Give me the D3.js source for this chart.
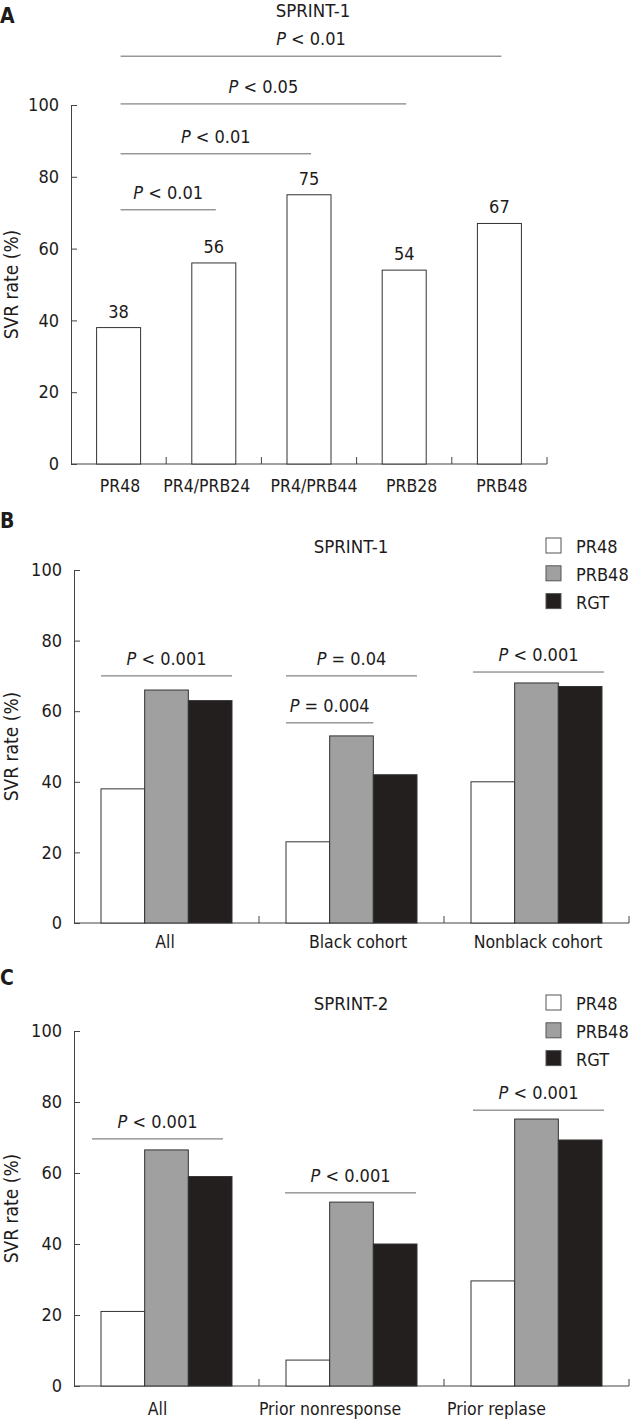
<!DOCTYPE html>
<html>
<head>
<meta charset="utf-8">
<script src="https://cdn.jsdelivr.net/npm/d3@7"></script>
<style>
body { margin: 0; background: #fff; }
svg text { font-family: "DejaVu Sans Condensed", "DejaVu Sans", sans-serif; font-stretch: condensed; font-size: 17.5px; fill: #1e1b1b; }
svg .tick text, svg .val, svg .plab, svg .leg text { font-size: 18px; }
svg .title { font-size: 18.5px; }
svg .ytitle { font-size: 19px; }
</style>
</head>
<body>
<svg width="630" height="1419"></svg>
<script>
// ---- data ----
// panel A : SPRINT-1 arms
var aTitle = "SPRINT-1";
var aCategories = ["PR48", "PR4/PRB24", "PR4/PRB44", "PRB28", "PRB48"];
var aValues = [38, 56, 75, 54, 67];
var aPairFrom = [0, 0, 0, 0];
var aPairTo = [1, 2, 3, 4];
var aPLevels = [70.8, 86.4, 100.3, 113.6];
var aPLabels = ["< 0.01", "< 0.01", "< 0.05", "< 0.01"];

// legend / series for B and C
var seriesNames = ["PR48", "PRB48", "RGT"];
var seriesColors = ["#ffffff", "#a0a0a0", "#231f1e"];

// panel B : SPRINT-1 by cohort
var bTitle = "SPRINT-1";
var bCategories = ["All", "Black cohort", "Nonblack cohort"];
var bPR48 = [38, 23, 40];
var bPRB48 = [66, 53, 68];
var bRGT = [63, 42, 67];
var bPCat = [0, 1, 1, 2];
var bPFrom = [0, 0, 0, 0];
var bPTo = [2, 2, 1, 2];
var bPLevels = [70, 70, 56.7, 71.1];
var bPLabels = ["< 0.001", "= 0.04", "= 0.004", "< 0.001"];

// panel C : SPRINT-2
var cTitle = "SPRINT-2";
var cCategories = ["All", "Prior nonresponse", "Prior replase"];
var cPR48 = [21, 7.3, 29.6];
var cPRB48 = [66.5, 51.8, 75.2];
var cRGT = [59, 40, 69.3];
var cPCat = [0, 1, 2];
var cPFrom = [0, 0, 0];
var cPTo = [2, 2, 2];
var cPLevels = [69.6, 54.4, 77.7];
var cPLabels = ["< 0.001", "< 0.001", "< 0.001"];

var yTicks = [0, 20, 40, 60, 80, 100];

// small nudges of the category labels / brackets as placed in the original figure
var aLabelShift = [1.5, -7, 5, 7.5, 2.5];
var bLabelShift = [-1.5, 6.5, 1.5];
var cLabelShift = [-9, -21.5, -40];
var bPShift = [0, 0, 0, 2];
var cPShift = [-9, -1, 2];

var svg = d3.select("svg");

function pLabel(g, cx, yy, label) {
  var t = g.append("text")
    .attr("class", "plab")
    .attr("x", cx)
    .attr("y", yy)
    .attr("text-anchor", "middle");
  t.append("tspan").style("font-style", "italic").text("P");
  t.append("tspan").text(" " + label);
}

function drawFrame(g, x, y, labelGap, shifts) {
  // y axis, ticks pointing inward
  g.append("g")
    .attr("transform", "translate(" + x.range()[0] + ",0)")
    .style("color", "#444")
    .call(d3.axisLeft(y).tickValues(yTicks).tickSize(-6).tickSizeOuter(0).tickPadding(12));

  var y0 = y(0);
  g.append("line")
    .attr("x1", x.range()[0]).attr("x2", x.range()[1])
    .attr("y1", y0).attr("y2", y0)
    .attr("stroke", "#444");

  g.selectAll(".sep")
    .data(x.domain())
    .enter().append("line")
    .attr("class", "sep")
    .attr("x1", function(d) { return x(d) + x.bandwidth(); })
    .attr("x2", function(d) { return x(d) + x.bandwidth(); })
    .attr("y1", y0).attr("y2", y0 - 7)
    .attr("stroke", "#444");

  g.selectAll(".cat")
    .data(x.domain())
    .enter().append("text")
    .attr("class", "cat")
    .attr("x", function(d, i) { return x(d) + x.bandwidth() / 2 + shifts[i]; })
    .attr("y", y0 + labelGap)
    .attr("text-anchor", "middle")
    .text(function(d) { return d; });

  var midY = (y.range()[0] + y.range()[1]) / 2;
  g.append("text")
    .attr("class", "ytitle")
    .attr("transform", "translate(18," + midY + ") rotate(-90)")
    .attr("text-anchor", "middle")
    .text("SVR rate (%)");
}

function panelLetter(letter, yy) {
  svg.append("text")
    .attr("x", 0).attr("y", yy)
    .style("font-weight", "bold")
    .style("font-size", "21px")
    .text(letter);
}

// ---------- Panel A ----------
(function() {
  var g = svg.append("g");
  var x = d3.scaleBand().domain(aCategories).range([71, 547]);
  var y = d3.scaleLinear().domain([0, 100]).range([464, 105]);
  var barW = 44;

  panelLetter("A", 23);
  g.append("text").attr("class", "title").attr("x", 313).attr("y", 17).attr("text-anchor", "middle").text(aTitle);

  drawFrame(g, x, y, 28, aLabelShift);

  g.selectAll(".bar")
    .data(aValues)
    .enter().append("rect")
    .attr("x", function(d, i) { return x(aCategories[i]) + (x.bandwidth() - barW) / 2; })
    .attr("y", function(d) { return y(d); })
    .attr("width", barW)
    .attr("height", function(d) { return y(0) - y(d); })
    .attr("fill", "#fff")
    .attr("stroke", "#333");

  g.selectAll(".val")
    .data(aValues)
    .enter().append("text")
    .attr("class", "val")
    .attr("x", function(d, i) { return x(aCategories[i]) + x.bandwidth() / 2; })
    .attr("y", function(d) { return y(d) - 10; })
    .attr("text-anchor", "middle")
    .text(function(d) { return d; });

  aPLevels.forEach(function(lv, i) {
    var x1 = x(aCategories[aPairFrom[i]]) + x.bandwidth() / 2 + 2;
    var x2 = x(aCategories[aPairTo[i]]) + x.bandwidth() / 2 + 2;
    g.append("line")
      .attr("x1", x1).attr("x2", x2)
      .attr("y1", y(lv)).attr("y2", y(lv))
      .attr("stroke", "#666");
    pLabel(g, (x1 + x2) / 2, y(lv) - 11, aPLabels[i]);
  });
})();

// ---------- grouped panels B and C ----------
function groupedPanel(letter, letterY, title, titleY, cats, s1, s2, s3, yRange, labelGap, shifts,
                      pCat, pFrom, pTo, pLevels, pLabels, pShift) {
  var g = svg.append("g");
  var x0 = d3.scaleBand().domain(cats).range([74, 629]);
  var groupW = 131;
  var x1 = d3.scaleBand().domain(seriesNames).range([0, groupW]);
  var y = d3.scaleLinear().domain([0, 100]).range(yRange);
  var off = (x0.bandwidth() - groupW) / 2;

  panelLetter(letter, letterY);
  g.append("text").attr("class", "title").attr("x", 351).attr("y", titleY).attr("text-anchor", "middle").text(title);

  // legend
  var leg = g.selectAll(".leg")
    .data(seriesNames)
    .enter().append("g")
    .attr("class", "leg")
    .attr("transform", function(d, i) { return "translate(546," + (titleY - 15 + i * 27.8) + ")"; });
  leg.append("rect")
    .attr("width", 15).attr("height", 15)
    .attr("fill", function(d, i) { return seriesColors[i]; })
    .attr("stroke", "#555");
  leg.append("text")
    .attr("x", 30).attr("y", 15)
    .text(function(d) { return d; });

  drawFrame(g, x0, y, labelGap, shifts);

  var rows = cats.map(function(c, i) {
    return { cat: c, vals: [s1[i], s2[i], s3[i]] };
  });

  var grp = g.selectAll(".grp")
    .data(rows)
    .enter().append("g")
    .attr("transform", function(d) { return "translate(" + (x0(d.cat) + off) + ",0)"; });

  grp.selectAll("rect")
    .data(function(d) { return d.vals; })
    .enter().append("rect")
    .attr("x", function(d, i) { return x1(seriesNames[i]); })
    .attr("y", function(d) { return y(d); })
    .attr("width", x1.bandwidth())
    .attr("height", function(d) { return y(0) - y(d); })
    .attr("fill", function(d, i) { return seriesColors[i]; })
    .attr("stroke", "#333");

  pLevels.forEach(function(lv, i) {
    var base = x0(cats[pCat[i]]) + off + pShift[i];
    var xa = base + x1(seriesNames[pFrom[i]]);
    var xb = base + x1(seriesNames[pTo[i]]) + x1.bandwidth();
    g.append("line")
      .attr("x1", xa).attr("x2", xb)
      .attr("y1", y(lv)).attr("y2", y(lv))
      .attr("stroke", "#666");
    pLabel(g, (xa + xb) / 2, y(lv) - 11, pLabels[i]);
  });
}

groupedPanel("B", 528, bTitle, 553, bCategories, bPR48, bPRB48, bRGT, [923, 570], 25, bLabelShift,
  bPCat, bPFrom, bPTo, bPLevels, bPLabels, bPShift);
groupedPanel("C", 985, cTitle, 1010, cCategories, cPR48, cPRB48, cRGT, [1386, 1031], 29, cLabelShift,
  cPCat, cPFrom, cPTo, cPLevels, cPLabels, cPShift);
</script>
</body>
</html>
